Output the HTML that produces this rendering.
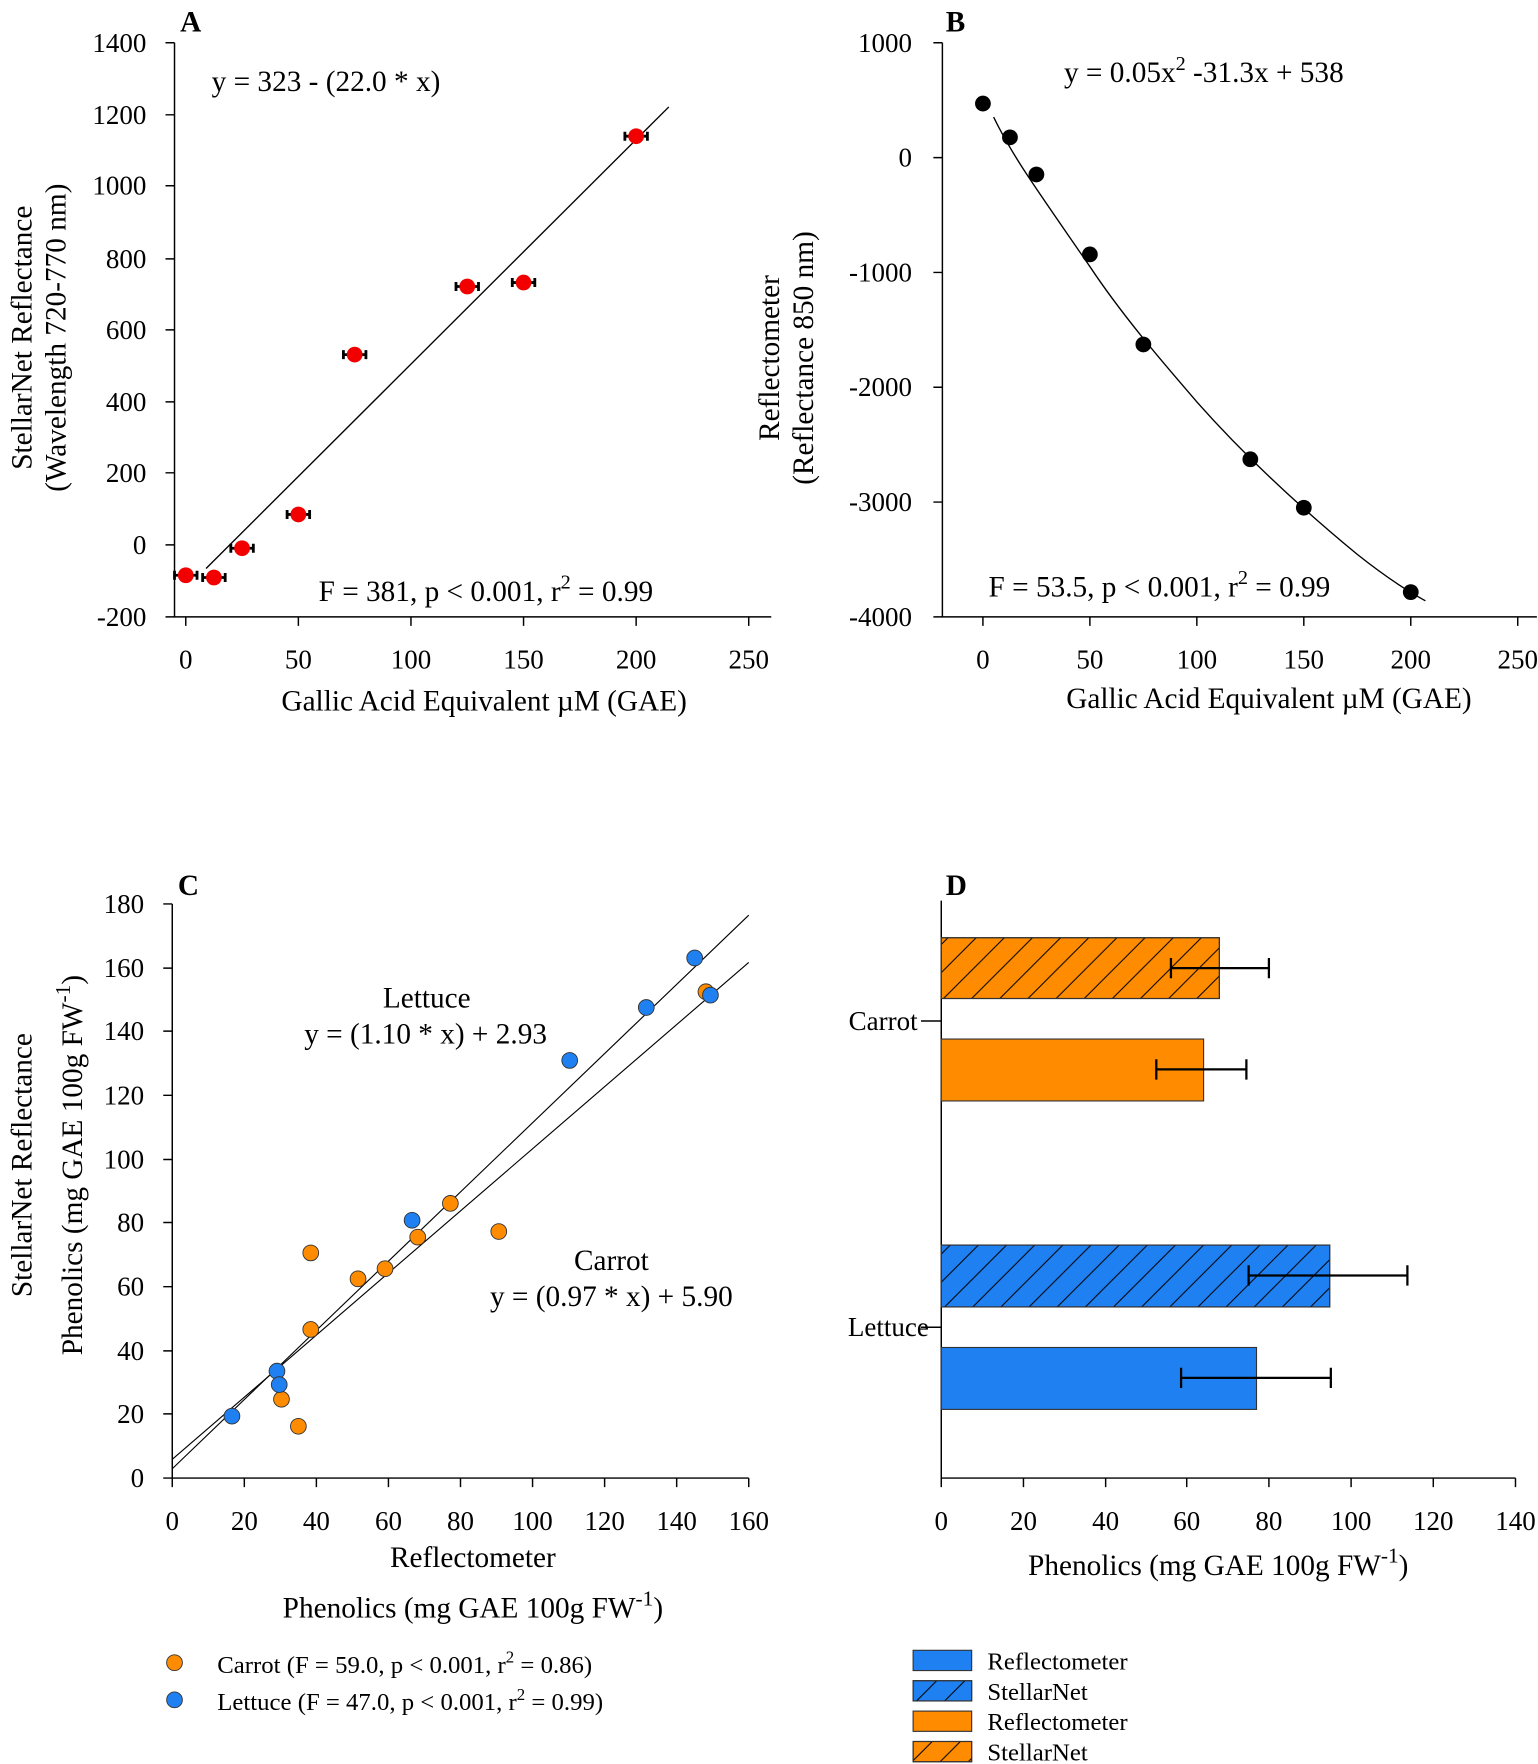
<!DOCTYPE html>
<html><head><meta charset="utf-8"><style>
html,body{margin:0;padding:0;background:#fff}
svg{display:block}
text{font-family:"Liberation Serif",serif;fill:#000}
</style></head><body>
<svg width="1538" height="1764" viewBox="0 0 1366 1567" preserveAspectRatio="none" xmlns="http://www.w3.org/2000/svg">
<defs>
<pattern id="hatch" patternUnits="userSpaceOnUse" width="25" height="25">
<path d="M-5,30 L30,-5 M-5,5 L5,-5 M20,30 L30,20" stroke="#000" stroke-width="0.9"/>
</pattern>
</defs>
<g stroke="#000" stroke-width="1.3" fill="none">
<path d="M155,38 V548 H685"/>
<path d="M147,38H155M147,102H155M147,165H155M147,230H155M147,293H155M147,357H155M147,420H155M147,484H155M147,548H155"/>
<path d="M165,548V556M265,548V556M365,548V556M465,548V556M565,548V556M665,548V556"/>
<line x1="183" y1="505" x2="594" y2="95" stroke-width="1.2"/>
<path d="M837,38 V548 H1365"/>
<path d="M829,38H837M829,140H837M829,242H837M829,344H837M829,446H837M829,548H837"/>
<path d="M873,548V556M968,548V556M1063,548V556M1158,548V556M1253,548V556M1348,548V556"/>
<path d="M882.5,104 C900,140 920,167 968,236.8 C1000,285 1040,330 1063,357 C1110,410 1160,455 1205.5,492.5 C1230,512 1250,525 1266,533.7" stroke-width="1.2"/>
<path d="M153,803 V1313 H665"/>
<path d="M145,803H153M145,860H153M145,916H153M145,973H153M145,1030H153M145,1086H153M145,1143H153M145,1200H153M145,1256H153M145,1313H153"/>
<path d="M153,1313V1321M217,1313V1321M281,1313V1321M345,1313V1321M409,1313V1321M473,1313V1321M537,1313V1321M601,1313V1321M665,1313V1321"/>
<line x1="153" y1="1304.7" x2="665" y2="813" stroke-width="1"/>
<line x1="153" y1="1296.3" x2="665" y2="855" stroke-width="1"/>
<path d="M836,800 V1313 H1346"/>
<path d="M836,1313V1321M909,1313V1321M982,1313V1321M1054,1313V1321M1127,1313V1321M1200,1313V1321M1273,1313V1321M1346,1313V1321"/>
<path d="M818,907H836M818,1179H836"/>
</g>
<g>
<g stroke="#000" stroke-width="2.5">
<path d="M155,511H175M180,513H200M205,487H225M255,457H275M305,315H325M405,254.5H425M455,251H475M555,121H575"/>
<path d="M155,507V515M175,507V515M180,509V517M200,509V517M205,483V491M225,483V491M255,453V461M275,453V461M305,311V319M325,311V319M405,250.5V258.5M425,250.5V258.5M455,247V255M475,247V255M555,117V125M575,117V125"/>
</g>
<g fill="#f20000">
<circle cx="165" cy="511" r="7"/><circle cx="190" cy="513" r="7"/><circle cx="215" cy="487" r="7"/><circle cx="265" cy="457" r="7"/><circle cx="315" cy="315" r="7"/><circle cx="415" cy="254.5" r="7"/><circle cx="465" cy="251" r="7"/><circle cx="565" cy="121" r="7"/>
</g>
</g>
<g fill="#000">
<circle cx="873" cy="92" r="7"/><circle cx="897" cy="122" r="7"/><circle cx="920.5" cy="155" r="7"/><circle cx="968" cy="226" r="7"/><circle cx="1015.5" cy="306" r="7"/><circle cx="1110.5" cy="408" r="7"/><circle cx="1158" cy="451" r="7"/><circle cx="1253" cy="526" r="7"/>
</g>
<g fill="#ff8c00" stroke="#333" stroke-width="0.8">
<circle cx="250" cy="1243" r="7"/><circle cx="265" cy="1267" r="7"/><circle cx="276" cy="1181" r="7"/><circle cx="276" cy="1113" r="7"/><circle cx="318" cy="1136" r="7"/><circle cx="342" cy="1127" r="7"/><circle cx="371" cy="1099" r="7"/><circle cx="400" cy="1069" r="7"/><circle cx="443" cy="1094" r="7"/><circle cx="627" cy="881" r="7"/>
</g>
<g fill="#1f80f2" stroke="#333" stroke-width="0.8">
<circle cx="206" cy="1258" r="7"/><circle cx="246" cy="1218" r="7"/><circle cx="248" cy="1230" r="7"/><circle cx="366" cy="1084" r="7"/><circle cx="506" cy="942" r="7"/><circle cx="574" cy="895" r="7"/><circle cx="617" cy="851" r="7"/><circle cx="631" cy="884" r="7"/>
</g>
<g stroke="#333" stroke-width="1">
<rect x="836" y="833" width="247" height="54" fill="#ff8c00"/>
<rect x="836" y="833" width="247" height="54" fill="url(#hatch)"/>
<rect x="836" y="923" width="233" height="55" fill="#ff8c00"/>
<rect x="836" y="1106" width="345" height="55" fill="#1f80f2"/>
<rect x="836" y="1106" width="345" height="55" fill="url(#hatch)"/>
<rect x="836" y="1197" width="280" height="55" fill="#1f80f2"/>
</g>
<g stroke="#000" stroke-width="2">
<path d="M1040,860H1127M1040,851V869M1127,851V869"/>
<path d="M1027,950H1107M1027,941V959M1107,941V959"/>
<path d="M1109,1133H1250M1109,1124V1142M1250,1124V1142"/>
<path d="M1049,1224H1182M1049,1215V1233M1182,1215V1233"/>
</g>
<g stroke="#333" stroke-width="1">
<rect x="811" y="1466" width="52" height="18" fill="#1f80f2"/>
<rect x="811" y="1493" width="52" height="18" fill="#1f80f2"/>
<rect x="811" y="1493" width="52" height="18" fill="url(#hatch)"/>
<rect x="811" y="1520" width="52" height="18" fill="#ff8c00"/>
<rect x="811" y="1547" width="52" height="18" fill="#ff8c00"/>
<rect x="811" y="1547" width="52" height="18" fill="url(#hatch)"/>
</g>
<circle cx="155" cy="1477" r="7" fill="#ff8c00" stroke="#333" stroke-width="0.8"/>
<circle cx="155" cy="1510" r="7" fill="#1f80f2" stroke="#333" stroke-width="0.8"/>

<g font-size="24" text-anchor="end">
<text x="130" y="46">1400</text><text x="130" y="110">1200</text><text x="130" y="173">1000</text><text x="130" y="238">800</text><text x="130" y="301">600</text><text x="130" y="365">400</text><text x="130" y="428">200</text><text x="130" y="492">0</text><text x="130" y="556">-200</text>
<text x="810" y="46">1000</text><text x="810" y="148">0</text><text x="810" y="250">-1000</text><text x="810" y="352">-2000</text><text x="810" y="454">-3000</text><text x="810" y="556">-4000</text>
<text x="128" y="811">180</text><text x="128" y="868">160</text><text x="128" y="924">140</text><text x="128" y="981">120</text><text x="128" y="1038">100</text><text x="128" y="1094">80</text><text x="128" y="1151">60</text><text x="128" y="1208">40</text><text x="128" y="1264">20</text><text x="128" y="1321">0</text>
<text x="815" y="915">Carrot</text><text x="825" y="1187">Lettuce</text>
</g>
<g font-size="24" text-anchor="middle">
<text x="165" y="594">0</text><text x="265" y="594">50</text><text x="365" y="594">100</text><text x="465" y="594">150</text><text x="565" y="594">200</text><text x="665" y="594">250</text>
<text x="873" y="594">0</text><text x="968" y="594">50</text><text x="1063" y="594">100</text><text x="1158" y="594">150</text><text x="1253" y="594">200</text><text x="1348" y="594">250</text>
<text x="153" y="1359">0</text><text x="217" y="1359">20</text><text x="281" y="1359">40</text><text x="345" y="1359">60</text><text x="409" y="1359">80</text><text x="473" y="1359">100</text><text x="537" y="1359">120</text><text x="601" y="1359">140</text><text x="665" y="1359">160</text>
<text x="836" y="1359">0</text><text x="909" y="1359">20</text><text x="982" y="1359">40</text><text x="1054" y="1359">60</text><text x="1127" y="1359">80</text><text x="1200" y="1359">100</text><text x="1273" y="1359">120</text><text x="1346" y="1359">140</text>
</g>
<g font-size="26" text-anchor="middle">
<text x="430" y="631">Gallic Acid Equivalent µM (GAE)</text>
<text x="1127" y="629">Gallic Acid Equivalent µM (GAE)</text>
<text x="420" y="1392">Reflectometer</text>
<text x="420" y="1437">Phenolics (mg GAE 100g FW<tspan dy="-11" font-size="19">-1</tspan><tspan dy="11">)</tspan></text>
<text x="1082" y="1399">Phenolics (mg GAE 100g FW<tspan dy="-11" font-size="19">-1</tspan><tspan dy="11">)</tspan></text>
<text transform="translate(28,300) rotate(-90)">StellarNet Reflectance</text>
<text transform="translate(58,300) rotate(-90)">(Wavelength 720-770 nm)</text>
<text transform="translate(692,318) rotate(-90)">Reflectometer</text>
<text transform="translate(722,318) rotate(-90)">(Reflectance 850 nm)</text>
<text transform="translate(28,1035) rotate(-90)">StellarNet Reflectance</text>
<text transform="translate(73,1035) rotate(-90)">Phenolics (mg GAE 100g FW<tspan dy="-11" font-size="19">-1</tspan><tspan dy="11">)</tspan></text>
<text x="379" y="895">Lettuce</text>
<text x="378" y="927">y = (1.10 * x) + 2.93</text>
<text x="543" y="1128">Carrot</text>
<text x="543" y="1160">y = (0.97 * x) + 5.90</text>
</g>
<g font-size="26">
<text x="188" y="81">y = 323 - (22.0 * x)</text>
<text x="283" y="534">F = 381, p &lt; 0.001, r<tspan dy="-11" font-size="18">2</tspan><tspan dy="11"> = 0.99</tspan></text>
<text x="945" y="73">y = 0.05x<tspan dy="-11" font-size="18">2</tspan><tspan dy="11"> -31.3x + 538</tspan></text>
<text x="878" y="530">F = 53.5, p &lt; 0.001, r<tspan dy="-11" font-size="18">2</tspan><tspan dy="11"> = 0.99</tspan></text>
</g>
<g font-size="22">
<text x="193" y="1486">Carrot (F = 59.0, p &lt; 0.001, r<tspan dy="-9" font-size="15">2</tspan><tspan dy="9"> = 0.86)</tspan></text>
<text x="193" y="1519">Lettuce (F = 47.0, p &lt; 0.001, r<tspan dy="-9" font-size="15">2</tspan><tspan dy="9"> = 0.99)</tspan></text>
<text x="877" y="1483">Reflectometer</text>
<text x="877" y="1510">StellarNet</text>
<text x="877" y="1537">Reflectometer</text>
<text x="877" y="1564">StellarNet</text>
</g>
<g font-size="26" font-weight="bold">
<text x="160" y="28">A</text><text x="840" y="28">B</text><text x="158" y="795">C</text><text x="840" y="795">D</text>
</g>
</svg>
</body></html>
